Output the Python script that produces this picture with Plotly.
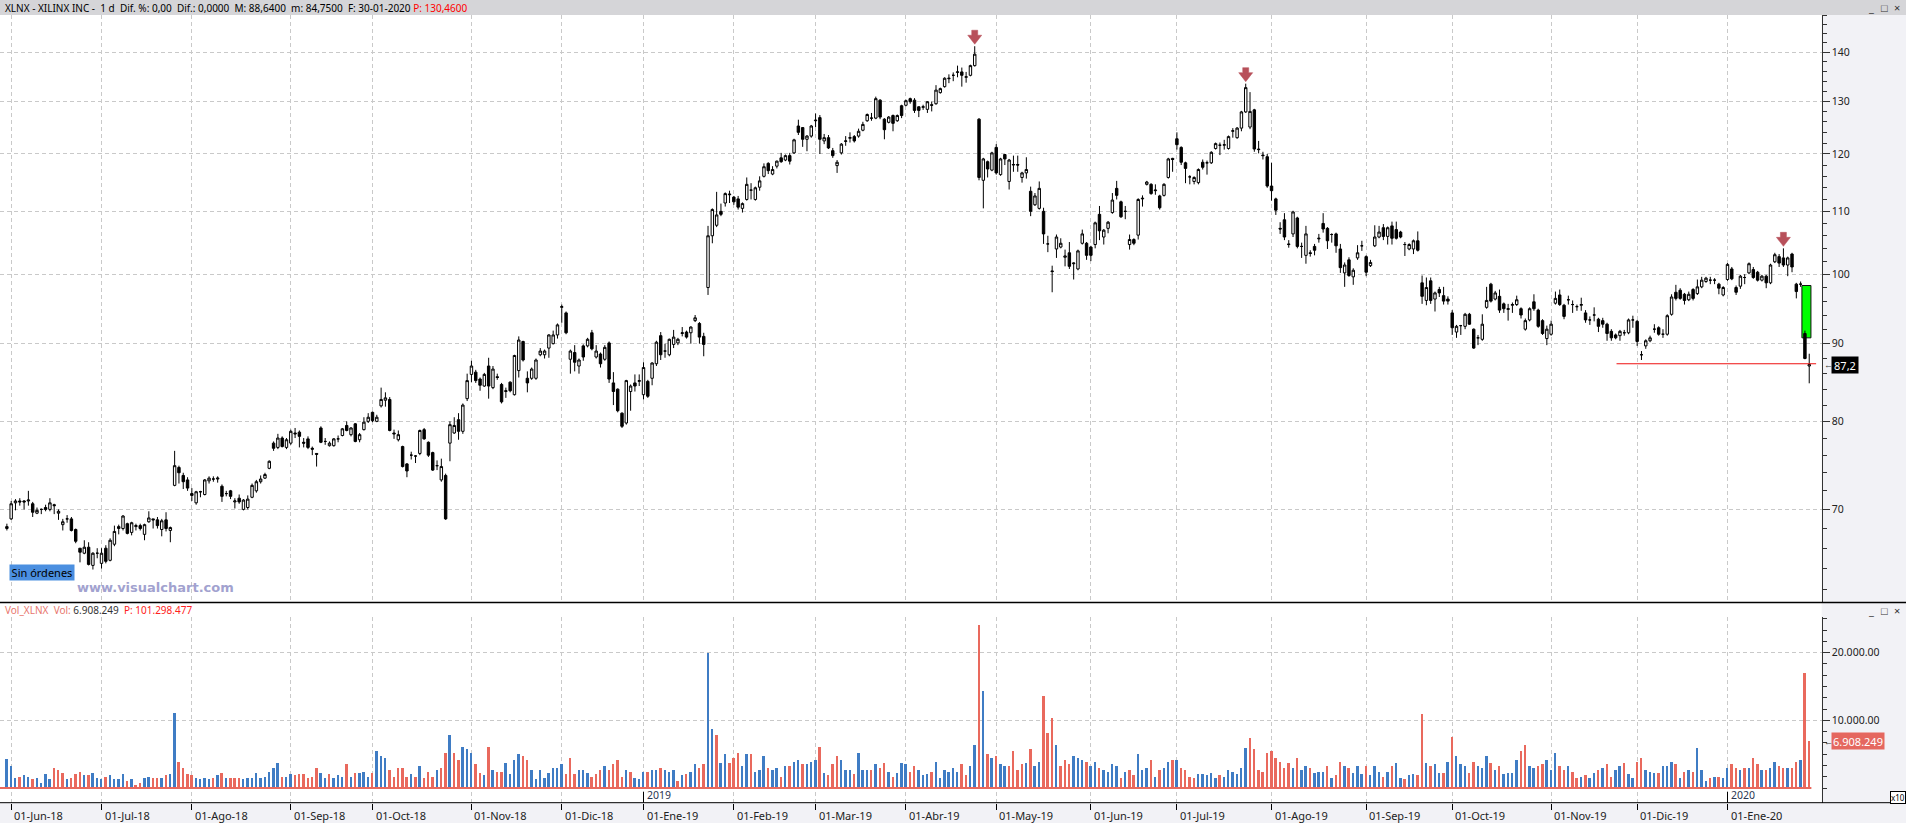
import math
import plotly.graph_objects as go

# ---------------------------------------------------------------- data
# daily candles XLNX, 31-May-2018 .. 30-Jan-2020 (index = trading day)
opens = [
    68.0, 69.0, 70.7, 70.9, 70.9, 70.9, 70.6, 69.6, 70.0, 70.2,
    70.0, 70.5, 69.6, 68.4, 69.0, 69.0, 67.9, 66.0, 65.5, 66.1,
    64.3, 65.5, 64.5, 66.0, 64.8, 66.4, 68.0, 68.0, 68.5, 67.6,
    68.2, 68.3, 67.4, 68.7, 69.0, 68.9, 67.9, 68.9, 67.8, 72.6,
    74.6, 73.7, 73.2, 71.7, 70.7, 71.9, 71.6, 73.1, 73.3, 73.3,
    72.5, 71.7, 72.0, 70.8, 71.2, 70.0, 70.2, 71.3, 72.0, 73.0,
    73.4, 74.5, 77.4, 76.9, 78.0, 76.9, 77.4, 78.6, 78.7, 77.5,
    77.9, 76.8, 76.2, 79.2, 77.6, 77.1, 77.1, 77.9, 78.3, 79.5,
    78.4, 79.7, 77.8, 79.0, 80.0, 81.1, 80.0, 81.9, 82.6, 82.7,
    78.6, 77.8, 77.0, 75.0, 76.0, 75.9, 76.2, 79.0, 77.5, 76.3,
    74.8, 73.2, 73.7, 77.4, 78.6, 80.2, 78.8, 82.8, 85.9, 86.2,
    85.3, 84.4, 87.0, 84.2, 85.6, 84.6, 83.7, 84.9, 83.3, 86.4,
    90.3, 85.4, 85.4, 85.4, 88.5, 88.5, 89.4, 90.0, 91.2, 95.1,
    94.3, 87.9, 88.8, 87.0, 89.7, 89.7, 91.5, 88.2, 88.6, 87.9,
    90.1, 84.8, 84.0, 81.0, 79.8, 83.7, 84.8, 85.0, 83.3, 85.0,
    85.4, 87.3, 91.1, 89.0, 88.5, 89.9, 90.1, 91.4, 91.6, 91.5,
    93.2, 92.8, 91.0, 98.0, 106.0, 107.7, 110.0, 111.4, 112.8, 112.4,
    112.1, 110.5, 112.0, 113.6, 112.0, 114.1, 116.0, 118.3, 116.4, 117.8,
    119.3, 118.9, 119.7, 120.2, 125.2, 124.9, 122.7, 123.3, 126.2, 126.8,
    122.4, 123.0, 120.6, 117.9, 120.2, 122.3, 122.9, 123.2, 123.3, 124.4,
    126.2, 126.7, 126.7, 130.2, 126.5, 125.9, 127.2, 126.2, 129.1, 129.2,
    130.5, 130.2, 128.9, 128.8, 128.4, 129.3, 129.5, 131.7, 132.9, 134.5,
    135.2, 135.8, 135.9, 134.8, 135.2, 137.2, 126.5, 115.3, 118.6, 117.1,
    121.2, 116.3, 119.9, 115.1, 118.0, 118.1, 115.8, 116.6, 113.4, 111.1,
    110.5, 110.0, 104.7, 100.5, 103.9, 104.2, 102.6, 103.3, 101.6, 100.8,
    104.8, 104.8, 104.2, 104.6, 109.5, 105.8, 107.2, 109.8, 113.9, 111.6,
    110.0, 104.6, 105.4, 106.1, 112.1, 114.6, 114.6, 113.5, 112.6, 112.7,
    115.8, 119.2, 122.8, 121.2, 118.4, 115.9, 115.1, 114.9, 118.5, 118.4,
    118.4, 121.0, 121.6, 121.6, 121.0, 124.2, 123.0, 124.8, 127.9, 125.0,
    128.3, 120.9, 119.8, 119.5, 114.3, 112.1, 107.2, 108.6, 104.7, 106.3,
    108.9, 104.3, 102.9, 103.3, 104.3, 105.5, 108.0, 107.2, 106.2, 106.3,
    103.9, 100.2, 102.2, 99.6, 102.5, 104.4, 102.7, 101.3, 104.4, 105.8,
    107.3, 105.9, 107.6, 107.0, 106.6, 104.6, 103.9, 103.9, 105.2, 98.7,
    96.1, 99.0, 96.3, 97.7, 96.8, 96.3, 94.3, 91.6, 92.5, 92.4,
    94.1, 92.0, 90.8, 90.6, 95.1, 98.5, 96.3, 96.7, 95.6, 94.8,
    95.4, 95.5, 94.9, 92.0, 93.3, 95.9, 94.7, 93.2, 90.7, 91.3,
    95.7, 96.9, 95.4, 96.2, 95.5, 95.2, 95.4, 94.3, 93.3, 94.0,
    93.4, 93.2, 92.7, 91.7, 91.2, 91.1, 91.5, 91.5, 93.3, 93.1,
    88.5, 89.7, 90.4, 92.0, 92.2, 91.3, 91.3, 94.1, 97.3, 97.6,
    97.0, 96.2, 97.7, 97.1, 98.1, 98.9, 99.1, 99.1, 98.5, 96.9,
    99.2, 100.8, 98.0, 98.2, 99.5, 100.2, 100.7, 100.3, 99.1, 99.7,
    98.7, 101.9, 102.7, 102.5, 101.4, 103.1, 98.5, 98.5, 91.4, 87.0,
]
highs = [
    68.5, 70.9, 71.1, 71.2, 71.0, 72.0, 70.8, 70.2, 70.1, 70.5,
    71.2, 70.6, 70.0, 69.0, 69.4, 69.2, 68.0, 66.0, 66.8, 66.6,
    65.6, 66.0, 66.0, 66.3, 67.0, 68.3, 68.4, 69.4, 68.6, 68.7,
    68.5, 68.5, 68.5, 69.8, 69.0, 69.2, 69.0, 69.7, 68.2, 76.5,
    74.8, 74.0, 73.5, 72.3, 72.0, 72.0, 73.3, 73.6, 73.6, 73.6,
    72.7, 72.0, 72.1, 71.2, 71.6, 71.1, 71.5, 72.8, 73.2, 73.7,
    74.0, 75.4, 77.6, 78.5, 78.2, 78.0, 79.0, 79.2, 78.9, 78.0,
    78.2, 77.0, 76.2, 79.4, 78.0, 77.6, 78.0, 78.3, 79.2, 80.0,
    79.3, 79.8, 78.6, 80.5, 81.0, 81.2, 80.8, 84.2, 83.6, 83.0,
    79.0, 78.9, 77.1, 75.1, 76.4, 76.0, 79.0, 79.2, 77.6, 76.4,
    75.4, 75.6, 73.9, 80.0, 80.5, 81.0, 82.2, 86.0, 87.7, 86.5,
    85.5, 86.1, 88.1, 87.0, 86.0, 84.8, 84.2, 85.0, 88.5, 91.0,
    90.4, 86.3, 86.8, 88.0, 89.4, 89.2, 91.3, 91.8, 92.8, 95.5,
    94.5, 89.2, 89.8, 88.0, 89.9, 90.8, 91.9, 89.8, 88.8, 89.8,
    90.3, 86.2, 84.1, 81.1, 85.2, 84.6, 85.9, 85.9, 87.5, 85.2,
    87.5, 90.4, 91.6, 90.0, 90.7, 91.9, 90.8, 92.3, 91.8, 92.4,
    94.0, 93.0, 91.5, 107.6, 110.5, 113.3, 111.3, 113.2, 113.5, 112.6,
    112.6, 111.5, 115.8, 114.8, 114.2, 116.0, 118.3, 118.5, 117.8, 118.8,
    120.2, 119.9, 120.2, 122.8, 126.4, 125.0, 123.5, 125.4, 127.6, 127.3,
    123.7, 123.5, 121.1, 118.9, 122.0, 123.3, 124.0, 123.5, 124.7, 126.0,
    127.6, 127.7, 130.9, 130.4, 126.7, 127.1, 127.4, 127.4, 129.3, 130.3,
    130.7, 130.6, 129.0, 129.3, 130.0, 129.9, 133.2, 132.7, 134.8, 135.4,
    135.8, 137.2, 136.8, 135.9, 137.4, 141.3, 126.7, 119.3, 118.8, 120.4,
    121.8, 119.3, 120.0, 119.1, 119.7, 119.7, 116.8, 119.4, 114.2, 113.1,
    115.1, 110.6, 106.0, 101.3, 106.2, 105.6, 103.8, 105.0, 101.8, 103.8,
    107.0, 105.0, 104.4, 108.3, 110.9, 107.1, 108.4, 113.1, 115.2, 111.8,
    110.9, 106.2, 105.6, 112.2, 112.7, 115.2, 114.8, 114.6, 112.8, 114.8,
    119.3, 119.3, 124.0, 121.4, 118.6, 116.2, 116.0, 117.4, 119.0, 118.8,
    120.5, 122.1, 122.1, 122.6, 123.4, 124.8, 125.0, 128.1, 133.5, 131.8,
    128.5, 122.4, 120.4, 120.0, 118.4, 112.3, 108.2, 109.7, 105.3, 110.1,
    109.1, 104.9, 107.6, 103.7, 104.7, 106.3, 109.7, 107.4, 106.4, 106.5,
    104.7, 101.8, 102.6, 100.9, 104.5, 105.2, 102.9, 102.2, 107.7, 107.6,
    107.9, 107.5, 108.3, 108.3, 106.8, 105.0, 104.8, 105.4, 106.7, 99.8,
    99.5, 99.5, 97.4, 98.1, 98.1, 96.7, 94.7, 92.6, 92.6, 94.3,
    94.3, 92.1, 91.2, 94.1, 98.1, 98.7, 97.5, 97.7, 95.8, 95.6,
    95.8, 96.8, 95.1, 93.5, 95.1, 97.0, 94.9, 93.4, 92.5, 93.2,
    97.4, 97.7, 95.6, 96.8, 96.1, 95.5, 96.5, 94.7, 93.8, 95.1,
    93.6, 93.6, 92.9, 92.0, 91.4, 91.9, 91.9, 93.5, 93.9, 93.3,
    89.0, 90.6, 91.1, 92.7, 92.4, 92.0, 94.1, 97.0, 98.4, 97.9,
    97.2, 97.4, 97.9, 99.2, 99.6, 99.6, 99.6, 99.4, 98.7, 98.2,
    101.7, 101.1, 98.3, 99.9, 100.0, 101.8, 101.1, 100.5, 99.9, 99.9,
    101.6, 103.3, 103.1, 104.0, 102.7, 103.3, 98.7, 98.9, 91.8, 88.64,
]
lows = [
    67.8, 68.9, 69.9, 70.4, 70.0, 70.4, 69.2, 69.5, 69.5, 69.8,
    69.8, 69.5, 68.9, 67.8, 68.6, 67.7, 66.5, 64.6, 65.4, 64.3,
    63.9, 65.0, 64.0, 64.5, 64.7, 66.2, 67.4, 67.8, 67.4, 67.3,
    67.8, 67.8, 66.8, 68.6, 68.0, 68.0, 67.2, 67.7, 66.6, 72.5,
    72.8, 72.2, 72.0, 70.9, 70.5, 71.3, 71.5, 72.8, 73.0, 72.9,
    70.8, 71.4, 71.1, 70.1, 70.6, 69.9, 70.0, 71.2, 71.8, 72.8,
    73.3, 74.4, 76.5, 76.7, 76.9, 76.7, 77.2, 78.0, 76.9, 76.9,
    76.7, 76.0, 74.7, 77.4, 77.2, 77.0, 77.0, 77.5, 78.2, 78.8,
    78.2, 77.5, 77.5, 78.9, 79.8, 79.9, 79.9, 81.7, 81.8, 78.8,
    77.9, 77.6, 74.6, 73.5, 75.5, 75.1, 76.0, 77.8, 75.8, 74.2,
    74.3, 73.0, 68.9, 75.3, 78.5, 77.8, 78.5, 82.5, 84.9, 84.8,
    83.8, 84.3, 82.8, 84.0, 85.2, 82.2, 82.9, 83.6, 83.2, 85.5,
    87.6, 83.6, 85.2, 85.2, 88.3, 88.0, 88.1, 89.9, 90.7, 92.9,
    91.3, 86.0, 86.3, 86.0, 87.7, 89.5, 89.1, 88.0, 86.8, 87.7,
    84.8, 82.0, 81.1, 79.2, 79.6, 81.3, 83.7, 84.4, 82.7, 82.9,
    84.5, 87.0, 87.8, 88.1, 88.3, 89.4, 89.8, 91.0, 90.7, 90.0,
    93.0, 90.0, 88.3, 96.9, 104.8, 107.4, 109.2, 110.8, 111.4, 111.1,
    110.3, 109.8, 111.8, 112.0, 111.8, 113.5, 115.8, 116.4, 116.2, 117.4,
    118.4, 118.7, 118.1, 120.0, 123.5, 121.3, 120.5, 123.0, 125.0, 120.0,
    121.8, 120.9, 119.3, 116.6, 119.9, 121.5, 122.1, 122.1, 123.0, 124.2,
    126.0, 126.2, 126.5, 126.5, 122.7, 125.7, 124.2, 126.0, 126.7, 129.0,
    129.5, 127.7, 126.9, 128.3, 127.7, 128.0, 129.3, 131.5, 132.7, 133.6,
    134.0, 134.8, 132.9, 133.7, 135.0, 137.0, 115.3, 110.5, 115.8, 116.9,
    116.3, 116.1, 118.0, 113.7, 116.8, 116.8, 114.9, 115.6, 109.2, 110.9,
    110.3, 104.7, 103.4, 97.3, 102.5, 104.0, 101.2, 100.8, 99.2, 100.6,
    104.6, 102.2, 102.0, 104.0, 105.3, 104.6, 106.4, 109.6, 112.0, 108.9,
    108.7, 103.8, 104.5, 105.4, 110.8, 114.4, 112.8, 112.8, 110.3, 112.5,
    115.6, 116.8, 120.8, 118.0, 114.8, 114.6, 114.6, 114.6, 117.2, 116.3,
    118.2, 120.8, 119.8, 120.8, 120.8, 123.0, 122.8, 124.2, 127.7, 124.6,
    120.4, 120.1, 119.0, 114.0, 111.8, 109.4, 106.3, 105.3, 104.1, 105.8,
    104.0, 102.5, 101.6, 102.7, 102.9, 104.9, 106.5, 103.9, 104.9, 103.3,
    100.2, 98.1, 99.6, 98.4, 102.2, 103.6, 99.7, 101.1, 104.2, 105.6,
    105.3, 104.6, 104.6, 105.4, 105.6, 102.8, 103.7, 103.1, 103.5, 95.6,
    95.4, 95.6, 94.5, 96.6, 95.5, 95.5, 91.2, 90.8, 91.2, 92.0,
    92.6, 89.3, 89.8, 90.4, 94.9, 95.8, 96.1, 94.3, 94.3, 93.2,
    94.3, 95.3, 93.5, 91.8, 93.1, 94.6, 92.2, 91.2, 89.8, 91.1,
    95.5, 95.3, 93.4, 95.5, 94.3, 94.6, 94.6, 92.9, 92.6, 93.1,
    91.6, 92.2, 90.4, 90.4, 90.6, 90.4, 91.1, 91.3, 92.2, 89.7,
    87.8, 89.3, 90.2, 91.5, 91.1, 90.8, 91.1, 93.9, 96.1, 96.2,
    95.5, 96.0, 96.1, 96.9, 97.9, 98.7, 98.5, 98.5, 97.0, 96.7,
    99.0, 99.1, 96.9, 97.8, 98.5, 100.0, 99.3, 98.9, 98.9, 97.9,
    98.5, 101.7, 101.1, 101.1, 99.7, 100.3, 96.4, 98.1, 87.9, 84.75,
]
closes = [
    68.2, 70.6, 70.9, 70.8, 70.8, 71.0, 69.7, 69.9, 70.0, 70.0,
    70.7, 70.4, 69.8, 68.7, 69.0, 67.8, 66.7, 65.6, 66.1, 64.4,
    65.5, 65.5, 65.5, 64.7, 66.8, 67.7, 68.2, 69.3, 67.5, 68.6,
    68.3, 68.0, 68.4, 69.1, 68.9, 68.3, 68.8, 68.0, 68.1, 74.8,
    74.0, 73.0, 72.3, 71.5, 71.9, 71.9, 73.2, 73.4, 73.3, 73.4,
    71.4, 71.7, 71.4, 70.9, 70.8, 71.0, 71.1, 72.6, 73.0, 73.3,
    73.8, 75.3, 76.8, 78.0, 77.0, 77.8, 78.8, 78.5, 78.2, 77.4,
    76.9, 76.7, 76.1, 77.5, 77.6, 77.4, 77.9, 77.9, 79.1, 78.9,
    79.2, 77.6, 78.4, 79.9, 80.5, 80.1, 80.5, 82.7, 82.9, 78.9,
    78.5, 78.4, 74.7, 74.2, 76.0, 75.9, 78.9, 77.9, 76.0, 74.3,
    74.8, 74.7, 69.0, 79.6, 79.5, 78.8, 82.0, 85.1, 87.0, 85.1,
    84.5, 85.9, 84.4, 86.6, 85.5, 82.4, 83.8, 83.8, 88.4, 90.5,
    87.8, 84.8, 86.6, 87.8, 89.0, 89.0, 91.2, 91.2, 92.6, 95.2,
    91.5, 89.0, 87.5, 87.8, 88.2, 90.6, 89.3, 89.0, 87.3, 89.5,
    85.3, 83.7, 81.3, 79.4, 85.1, 84.4, 84.4, 85.1, 86.8, 83.1,
    87.4, 90.2, 88.5, 89.0, 90.6, 90.9, 90.6, 91.5, 90.9, 92.3,
    93.6, 90.9, 89.9, 106.0, 110.3, 109.4, 109.5, 113.0, 112.9, 111.6,
    110.7, 111.3, 114.6, 113.6, 114.0, 115.2, 117.7, 117.0, 117.2, 118.7,
    118.6, 119.7, 118.7, 122.6, 124.0, 122.7, 123.3, 125.2, 126.3, 122.7,
    123.0, 121.1, 119.7, 118.5, 121.8, 122.4, 123.0, 122.4, 124.2, 125.5,
    127.4, 126.7, 130.5, 126.9, 124.5, 126.9, 125.7, 127.2, 127.2, 130.1,
    129.9, 128.2, 128.2, 128.9, 129.9, 129.2, 132.2, 132.5, 134.6, 134.6,
    135.2, 135.9, 135.2, 134.9, 137.2, 139.6, 115.8, 119.1, 117.3, 120.2,
    116.6, 119.1, 119.1, 118.9, 118.1, 118.0, 116.6, 117.2, 110.0, 112.6,
    113.9, 106.3, 104.7, 100.4, 105.8, 104.8, 102.8, 101.2, 101.7, 103.6,
    106.3, 102.9, 102.9, 108.1, 106.8, 106.9, 108.2, 111.9, 112.7, 109.1,
    110.0, 105.4, 104.8, 112.0, 112.2, 115.0, 113.0, 113.6, 110.6, 114.6,
    119.1, 119.0, 121.7, 118.5, 117.4, 115.9, 115.8, 117.2, 117.6, 118.4,
    120.3, 121.9, 121.6, 121.7, 123.2, 124.3, 124.8, 127.9, 132.7, 128.0,
    120.9, 120.8, 119.7, 114.3, 113.5, 110.2, 107.1, 105.8, 104.6, 109.9,
    104.3, 104.3, 106.3, 103.2, 103.7, 105.6, 107.1, 105.2, 106.2, 104.4,
    101.0, 101.4, 99.8, 100.6, 103.3, 104.4, 100.3, 101.8, 105.8, 106.6,
    105.9, 107.3, 105.6, 105.6, 105.8, 104.6, 104.6, 105.2, 103.7, 96.7,
    98.0, 96.1, 97.2, 97.2, 96.0, 96.0, 92.2, 92.4, 92.5, 94.1,
    92.7, 89.4, 90.8, 92.7, 96.1, 96.0, 97.2, 94.7, 94.9, 94.9,
    95.5, 96.2, 94.0, 93.2, 94.9, 94.9, 92.4, 91.4, 92.0, 92.7,
    96.4, 95.5, 93.8, 96.2, 95.5, 95.2, 95.5, 93.3, 93.3, 94.0,
    92.4, 92.7, 91.4, 90.8, 90.8, 91.7, 91.5, 93.3, 93.3, 90.3,
    88.5, 90.4, 90.8, 92.0, 91.3, 91.3, 93.9, 96.6, 96.4, 96.4,
    96.1, 97.0, 96.4, 98.1, 99.1, 99.4, 99.1, 99.1, 97.9, 98.0,
    101.5, 99.3, 97.3, 99.7, 99.5, 101.6, 99.5, 99.1, 99.7, 98.7,
    101.4, 103.0, 101.7, 101.4, 102.5, 101.1, 97.4, 98.5, 88.0, 87.2,
]
# daily volume, millions of shares
volumes = [
    4.3, 3.2, 1.5, 1.7, 1.9, 1.7, 1.3, 1.5, 0.7, 2.0,
    1.3, 3.0, 2.6, 2.2, 1.3, 1.5, 2.0, 2.4, 1.9, 1.9,
    2.2, 1.5, 1.3, 1.7, 1.9, 1.3, 1.3, 2.0, 1.1, 1.3,
    0.5, 0.7, 1.5, 1.7, 1.5, 1.5, 1.5, 1.9, 2.0, 11.1,
    3.9, 3.0, 2.0, 1.9, 1.5, 1.3, 1.5, 1.3, 1.5, 1.9,
    2.2, 1.5, 1.5, 1.5, 1.5, 1.3, 1.5, 1.5, 2.2, 1.5,
    1.7, 2.4, 3.0, 3.7, 1.7, 1.7, 2.0, 1.9, 2.0, 2.0,
    1.5, 1.7, 3.0, 2.2, 1.5, 2.0, 1.5, 1.9, 1.7, 3.5,
    1.7, 2.2, 2.2, 2.4, 1.7, 2.2, 5.4, 4.7, 4.4, 2.6,
    1.7, 3.0, 3.0, 1.7, 2.0, 1.7, 3.2, 1.5, 2.4, 1.7,
    2.6, 3.0, 5.2, 7.8, 5.2, 4.1, 6.1, 5.7, 5.2, 3.6,
    2.2, 1.9, 6.1, 2.7, 2.4, 2.4, 3.7, 2.0, 4.2, 5.0,
    4.8, 4.2, 2.6, 1.3, 2.7, 1.5, 2.2, 3.0, 3.0, 3.5,
    2.0, 4.4, 2.0, 2.6, 2.6, 2.2, 1.7, 2.0, 2.6, 3.3,
    2.6, 3.5, 4.2, 1.7, 2.6, 2.4, 1.5, 1.3, 2.4, 2.4,
    2.7, 2.7, 3.0, 2.6, 2.4, 2.6, 1.0, 1.9, 2.0, 2.4,
    3.5, 3.0, 3.5, 20.0, 8.7, 7.8, 3.7, 5.0, 3.7, 4.4,
    5.2, 3.3, 5.0, 5.0, 2.4, 2.6, 4.7, 3.0, 2.6, 3.0,
    1.7, 3.2, 3.3, 3.9, 4.1, 3.5, 3.5, 3.9, 4.1, 6.1,
    2.2, 1.9, 3.5, 4.7, 4.1, 2.7, 2.7, 2.0, 5.2, 2.6,
    2.6, 2.6, 3.5, 3.0, 3.7, 2.4, 1.7, 2.2, 3.7, 3.5,
    2.4, 3.3, 2.6, 1.9, 2.0, 2.4, 3.9, 1.5, 2.7, 2.4,
    3.0, 2.4, 3.5, 1.9, 3.2, 6.4, 24.1, 14.3, 5.0, 4.4,
    4.8, 3.5, 3.2, 3.2, 5.4, 2.7, 3.5, 3.7, 5.7, 3.3,
    3.9, 13.6, 8.1, 10.4, 6.3, 3.2, 4.2, 3.5, 4.7, 4.4,
    4.2, 3.9, 3.2, 3.9, 3.0, 2.7, 2.4, 3.5, 3.3, 1.5,
    2.4, 2.7, 1.9, 5.0, 2.6, 3.0, 4.2, 1.7, 2.6, 3.0,
    3.9, 4.2, 4.2, 3.0, 2.7, 1.7, 1.5, 2.0, 2.0, 1.9,
    2.2, 1.5, 1.9, 1.7, 2.7, 2.4, 2.0, 3.0, 5.9, 7.4,
    5.7, 2.6, 2.4, 5.2, 5.4, 4.4, 3.9, 3.0, 3.7, 3.0,
    4.4, 2.7, 3.2, 3.0, 2.2, 2.4, 2.4, 3.3, 1.5, 1.9,
    3.9, 3.3, 3.0, 2.2, 3.3, 2.0, 3.3, 1.9, 3.3, 2.4,
    1.7, 2.4, 3.3, 3.7, 1.5, 1.3, 1.9, 2.0, 1.9, 10.9,
    3.7, 3.3, 3.5, 2.2, 2.2, 3.9, 7.6, 4.7, 3.5, 3.2,
    2.2, 3.9, 3.2, 3.0, 4.8, 3.7, 2.7, 3.3, 2.0, 2.2,
    2.2, 4.2, 5.4, 6.4, 3.2, 3.0, 3.2, 3.5, 4.1, 2.7,
    5.2, 3.3, 2.6, 3.2, 2.4, 1.5, 1.7, 1.9, 1.5, 2.2,
    2.7, 3.0, 3.5, 1.7, 2.6, 3.3, 3.7, 2.0, 1.5, 3.9,
    4.4, 2.6, 2.4, 2.2, 2.2, 3.2, 3.2, 3.9, 3.5, 1.5,
    2.4, 2.7, 2.4, 5.9, 2.7, 1.1, 1.5, 1.7, 1.7, 1.5,
    3.0, 3.5, 3.0, 2.7, 3.0, 3.0, 4.4, 3.5, 2.7, 2.7,
    3.0, 3.9, 3.2, 3.0, 3.0, 3.0, 3.9, 4.2, 17.0, 6.908249,
]

month_tick_idx = [1, 22, 43, 66, 85, 108, 129, 148, 169, 188,
                  209, 230, 252, 272, 294, 316, 336, 359, 379, 400]
month_tick_labels = ["01-Jun-18", "01-Jul-18", "01-Ago-18", "01-Sep-18", "01-Oct-18",
                     "01-Nov-18", "01-Dic-18", "01-Ene-19", "01-Feb-19", "01-Mar-19",
                     "01-Abr-19", "01-May-19", "01-Jun-19", "01-Jul-19", "01-Ago-19",
                     "01-Sep-19", "01-Oct-19", "01-Nov-19", "01-Dic-19", "01-Ene-20"]
year_idx = [148, 400]
year_labels = ["2019", "2020"]
price_ticks = [70, 80, 90, 100, 110, 120, 130, 140]
vol_ticks = [10, 20]
vol_tick_labels = ["10.000.00", "20.000.00"]
signal_idx = [225, 288, 413]          # red "sell" arrows
support_level = 87.3
support_start_idx = 374
gap_zone = [90.8, 98.3]               # green gap box (price levels)
gap_zone_idx = [417.3, 419.4]
last_price_label = "87,2"
last_price = 87.2
last_vol_label = "6.908.249"

# ---------------------------------------------------------------- geometry
W, H = 1906, 823
PLOT_R = 1821.7
MAIN_TOP, MAIN_BOT = 15, 602
VOL_TOP, VOL_BOT = 617, 802.7


def py(px):
    return 1 - px / H


def pxx(px):
    return px / W


n = len(closes)
idx = list(range(n))
xr = [-1.6, 421.9]

BLUE = "#3f7cc4"
RED = "#e9695d"
GRID = "#c9c9c9"
DASH = "4px,3px"

fig = go.Figure()
fig.add_trace(go.Candlestick(
    x=idx, open=opens, high=highs, low=lows, close=closes,
    increasing=dict(line=dict(color="#000000", width=1), fillcolor="#ffffff"),
    decreasing=dict(line=dict(color="#000000", width=1), fillcolor="#000000"),
    whiskerwidth=0, xaxis="x", yaxis="y", showlegend=False, hoverinfo="skip"))

vol_colors = [BLUE if (i == 0 or closes[i] >= closes[i - 1]) else RED for i in idx]
fig.add_trace(go.Bar(
    x=idx, y=volumes, width=0.45, marker=dict(color=vol_colors, line=dict(width=0)),
    xaxis="x2", yaxis="y2", showlegend=False, hoverinfo="skip"))

minor_price = [v for v in range(62, 149, 2) if v % 10 != 0]
minor_vol = [k * 10 / 6 for k in range(0, 16) if k % 6 != 0 or k == 0]

fig.update_layout(
    width=W, height=H, margin=dict(l=0, r=0, t=0, b=0),
    paper_bgcolor="#f2f2f6", plot_bgcolor="#ffffff",
    showlegend=False, boxgap=0.25, boxgroupgap=0.25, bargap=0,
    font=dict(family="Noto Sans", size=10, color="#222222"),
    xaxis=dict(domain=[0, PLOT_R / W], range=xr, anchor="y", showticklabels=False,
               ticks="", tickmode="array", tickvals=month_tick_idx,
               showgrid=True, gridcolor=GRID, griddash=DASH, gridwidth=1,
               zeroline=False, showline=False, rangeslider=dict(visible=False)),
    yaxis=dict(domain=[py(MAIN_BOT), py(MAIN_TOP)], type="log",
               range=[math.log10(60.83), math.log10(148.15)],
               side="right", anchor="x", tickmode="array", tickvals=price_ticks,
               ticktext=[str(v) for v in price_ticks], ticks="outside", ticklen=7,
               tickcolor="#333333", showline=True, linecolor="#333333", linewidth=1,
               showgrid=True, gridcolor=GRID, griddash=DASH, zeroline=False,
               tickfont=dict(size=10.5, color="#222222"),
               minor=dict(tickvals=minor_price, ticks="outside", ticklen=4,
                          tickcolor="#333333", showgrid=False)),
    xaxis2=dict(domain=[0, PLOT_R / W], range=xr, anchor="y2", showticklabels=False,
                tickmode="array", tickvals=month_tick_idx, ticks="outside", ticklen=6,
                tickcolor="#000000", showgrid=True, gridcolor=GRID, griddash=DASH,
                zeroline=False, showline=False),
    yaxis2=dict(domain=[py(VOL_BOT), py(VOL_TOP)], range=[-2.17, 25.26],
                side="right", anchor="x2", tickmode="array", tickvals=vol_ticks,
                ticktext=vol_tick_labels, ticks="outside", ticklen=7,
                tickcolor="#333333", showline=True, linecolor="#333333", linewidth=1,
                showgrid=True, gridcolor=GRID, griddash=DASH, zeroline=False,
                tickfont=dict(size=10.5, color="#222222"),
                minor=dict(tickvals=minor_vol, ticks="outside", ticklen=4,
                           tickcolor="#333333", showgrid=False)),
)

shapes = []
# title bar
shapes.append(dict(type="rect", xref="paper", yref="paper", x0=0, x1=1, y0=py(15), y1=1,
                   fillcolor="#d5d5d8", line=dict(width=0), layer="below"))
# white strip above volume pane
shapes.append(dict(type="rect", xref="paper", yref="paper", x0=0, x1=PLOT_R / W,
                   y0=py(VOL_TOP), y1=py(MAIN_BOT), fillcolor="#ffffff",
                   line=dict(width=0), layer="below"))
# pane separator and bottom axis line
shapes.append(dict(type="line", xref="paper", yref="paper", x0=0, x1=1,
                   y0=py(MAIN_BOT + 0.5), y1=py(MAIN_BOT + 0.5),
                   line=dict(color="#000000", width=1.5)))
shapes.append(dict(type="line", xref="paper", yref="paper", x0=0, x1=1,
                   y0=py(VOL_BOT), y1=py(VOL_BOT), line=dict(color="#000000", width=1)))
# volume base line
shapes.append(dict(type="line", xref="x2", yref="y2", x0=xr[0], x1=n - 0.5, y0=0, y1=0,
                   line=dict(color=RED, width=2)))
# support line
shapes.append(dict(type="line", xref="x", yref="y", x0=support_start_idx + 0.2,
                   x1=n + 0.6, y0=support_level, y1=support_level,
                   line=dict(color="#ee1111", width=1)))
# green gap box
shapes.append(dict(type="rect", xref="x", yref="y", x0=gap_zone_idx[0], x1=gap_zone_idx[1],
                   y0=gap_zone[0], y1=gap_zone[1], fillcolor="#00ff00",
                   line=dict(color="#111111", width=1), layer="below"))
# signal arrows above highs
for i in signal_idx:
    shapes.append(dict(type="path", xref="x", yref="y", xsizemode="pixel", ysizemode="pixel",
                       xanchor=i, yanchor=highs[i],
                       path="M 0 2 L -7 11 L -3 11 L -3 16 L 3 16 L 3 11 L 7 11 Z",
                       fillcolor="#b8505a", line=dict(color="#b8505a", width=0.5)))
# year marks on time axis
for i in year_idx:
    shapes.append(dict(type="line", xref="x2", yref="paper", x0=i, x1=i,
                       y0=py(VOL_BOT), y1=py(VOL_BOT - 11),
                       line=dict(color="#000000", width=1)))
fig.update_layout(shapes=shapes)

ann = []
ann.append(dict(xref="paper", yref="paper", x=pxx(3), y=py(7.5), xanchor="left",
                yanchor="middle", showarrow=False,
                text=("XLNX - XILINX INC -  1 d  Dif. %: 0,00  Dif.: 0,0000  M: 88,6400  "
                      "m: 84,7500  F: 30-01-2020 <span style='color:#ff0000'>P: 130,4600</span>"),
                font=dict(size=10, color="#000000")))
for (xp, yp) in [(1871, 6.5), (1884, 7.5), (1897, 7.5), (1871, 609), (1884, 610), (1897, 610)]:
    pass
for yp in (7.5, 610):
    for xp, ch in [(1871, "_"), (1884, "□"), (1897, "×")]:
        ann.append(dict(xref="paper", yref="paper", x=pxx(xp), y=py(yp), xanchor="center",
                        yanchor="middle", showarrow=False, text=ch,
                        font=dict(size=11, color="#333333")))
for i, lab in zip(month_tick_idx, month_tick_labels):
    ann.append(dict(xref="x2", yref="paper", x=i, y=py(815), xanchor="left", xshift=1,
                    yanchor="middle", showarrow=False, text=lab,
                    font=dict(size=11, color="#222222")))
for i, lab in zip(year_idx, year_labels):
    ann.append(dict(xref="x2", yref="paper", x=i, y=py(795), xanchor="left", xshift=1,
                    yanchor="middle", showarrow=False, text=lab,
                    font=dict(size=10.5, color="#2a3550")))
ann.append(dict(xref="paper", yref="paper", x=pxx(9), y=py(572.5), xanchor="left",
                yanchor="middle", showarrow=False, text="Sin órdenes", bgcolor="#4b8fe0",
                width=62, height=13, borderpad=1, font=dict(size=11, color="#000000")))
ann.append(dict(xref="paper", yref="paper", x=pxx(75), y=py(587), xanchor="left",
                yanchor="middle", showarrow=False, text="<b>www.visualchart.com</b>",
                font=dict(family="DejaVu Sans", size=13, color="#a2a2cf")))
ann.append(dict(xref="paper", yref="paper", x=pxx(3), y=py(609.5), xanchor="left",
                yanchor="middle", showarrow=False,
                text=("<span style='color:#e8766d'>Vol_XLNX  Vol:</span> "
                      "<span style='color:#333333'>6.908.249</span>  "
                      "<span style='color:#ff2020'>P: 101.298.477</span>"),
                font=dict(size=10)))
# last price / last volume tags
ann.append(dict(xref="paper", yref="y", x=pxx(1831), y=math.log10(last_price),
                xanchor="left", yanchor="middle", showarrow=False, text=last_price_label,
                bgcolor="#000000", width=24, height=14, borderpad=1,
                font=dict(size=11, color="#ffffff")))
ann.append(dict(xref="paper", yref="y", x=pxx(1822), y=math.log10(last_price),
                xanchor="left", yanchor="middle", showarrow=False, text="←",
                font=dict(size=9, color="#333333")))
ann.append(dict(xref="paper", yref="y2", x=pxx(1831), y=volumes[-1],
                xanchor="left", yanchor="middle", showarrow=False, text=last_vol_label,
                bgcolor="#e5675f", width=50, height=14, borderpad=1,
                font=dict(size=11, color="#ffffff")))
ann.append(dict(xref="paper", yref="y2", x=pxx(1822), y=volumes[-1],
                xanchor="left", yanchor="middle", showarrow=False, text="←",
                font=dict(size=9, color="#333333")))
ann.append(dict(xref="paper", yref="paper", x=1, y=py(797), xanchor="right",
                yanchor="middle", showarrow=False, text="x10", bgcolor="#ffffff",
                bordercolor="#000000", borderwidth=1, borderpad=0,
                font=dict(size=8, color="#000000")))
fig.update_layout(annotations=ann)

fig.write_html("out.html")
